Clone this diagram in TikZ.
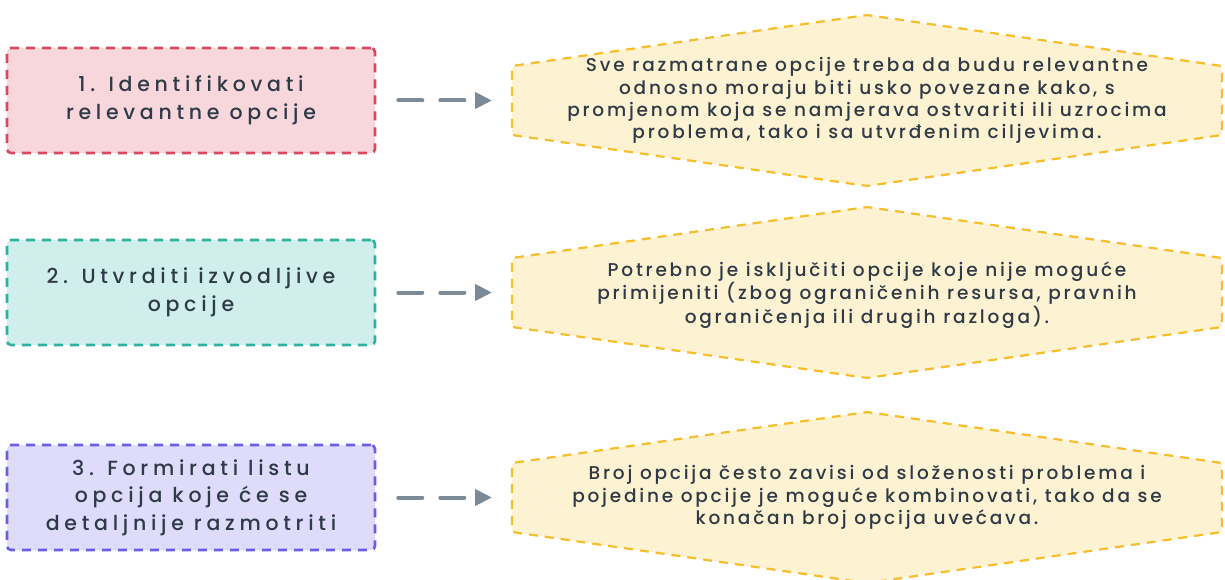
\documentclass[tikz,border=0pt]{standalone}
\usepackage{fontspec}
\setmainfont{Poppins}[UprightFont={* Medium}]
\usetikzlibrary{arrows.meta}
\definecolor{ink}{HTML}{2E3A46}
\definecolor{pinkfill}{HTML}{F7D7DC}
\definecolor{pinkline}{HTML}{D9485F}
\definecolor{tealfill}{HTML}{D0EEEC}
\definecolor{tealline}{HTML}{2BB3A0}
\definecolor{purpfill}{HTML}{DEDBFB}
\definecolor{purpline}{HTML}{6C5CE7}
\definecolor{hexfill}{HTML}{FDF2D2}
\definecolor{hexline}{HTML}{F5BE2A}
\definecolor{arrowc}{HTML}{7A8A96}
\begin{document}
\begin{tikzpicture}[x=1pt,y=-1pt,
  stepbox/.style={rectangle, rounded corners=4pt, minimum width=368pt, minimum height=105pt,
    line width=2.6pt, dash pattern=on 9pt off 7pt, align=center, text=ink,
    font=\fontsize{20.5}{27.5}\selectfont\addfontfeatures{LetterSpace=23}},
  hexshape/.style={draw=hexline, fill=hexfill, line width=2.2pt, dash pattern=on 9pt off 7pt, rounded corners=3pt},
  hextext/.style={align=center, text=ink, font=\fontsize{18.5}{22.3}\selectfont\addfontfeatures{LetterSpace=15}},
  flow/.style={draw=arrowc, line width=4pt, dash pattern=on 24pt off 18pt, line cap=round,
    shorten <=22pt, shorten >=20pt, -{Triangle[length=17pt,width=16pt]}}
]
\useasboundingbox (0,0) rectangle (1225,580);

% step boxes
\node[stepbox, draw=pinkline, fill=pinkfill] (b1) at (191,100.5) {1. Identifikovati\\relevantne opcije};
\node[stepbox, draw=tealline, fill=tealfill] (b2) at (191,292.5) {2. Utvrditi izvodljive\\opcije};
\node[stepbox, draw=purpline, fill=purpfill] (b3) at (191,497.5) {3. Formirati listu\\opcija koje će se\\detaljnije razmotriti};

% hexagons
\foreach \cy/\n in {100.5/1, 292.5/2, 497.5/3}{
  \draw[hexshape] (512,\cy-34.5) -- (867,\cy-85.5) -- (1222,\cy-34.5) -- (1222,\cy+34.5)
     -- (867,\cy+85.5) -- (512,\cy+34.5) -- cycle;
  \coordinate (h\n l) at (512,\cy);
}
\node[hextext] (h1) at (867,100.5) {Sve razmatrane opcije treba da budu relevantne\\odnosno moraju biti usko povezane kako, s\\promjenom koja se namjerava ostvariti ili uzrocima\\problema, tako i sa utvrđenim ciljevima.};
\node[hextext] (h2) at (867,295) {Potrebno je isključiti opcije koje nije moguće\\primijeniti (zbog ograničenih resursa, pravnih\\ograničenja ili drugih razloga).};
\node[hextext] (h3) at (867,497.5) {Broj opcija često zavisi od složenosti problema i\\pojedine opcije je moguće kombinovati, tako da se\\konačan broj opcija uvećava.};

% arrows
\draw[flow] (b1.east) -- (h1l);
\draw[flow] (b2.east) -- (h2l);
\draw[flow] (b3.east) -- (h3l);
\end{tikzpicture}
\end{document}
